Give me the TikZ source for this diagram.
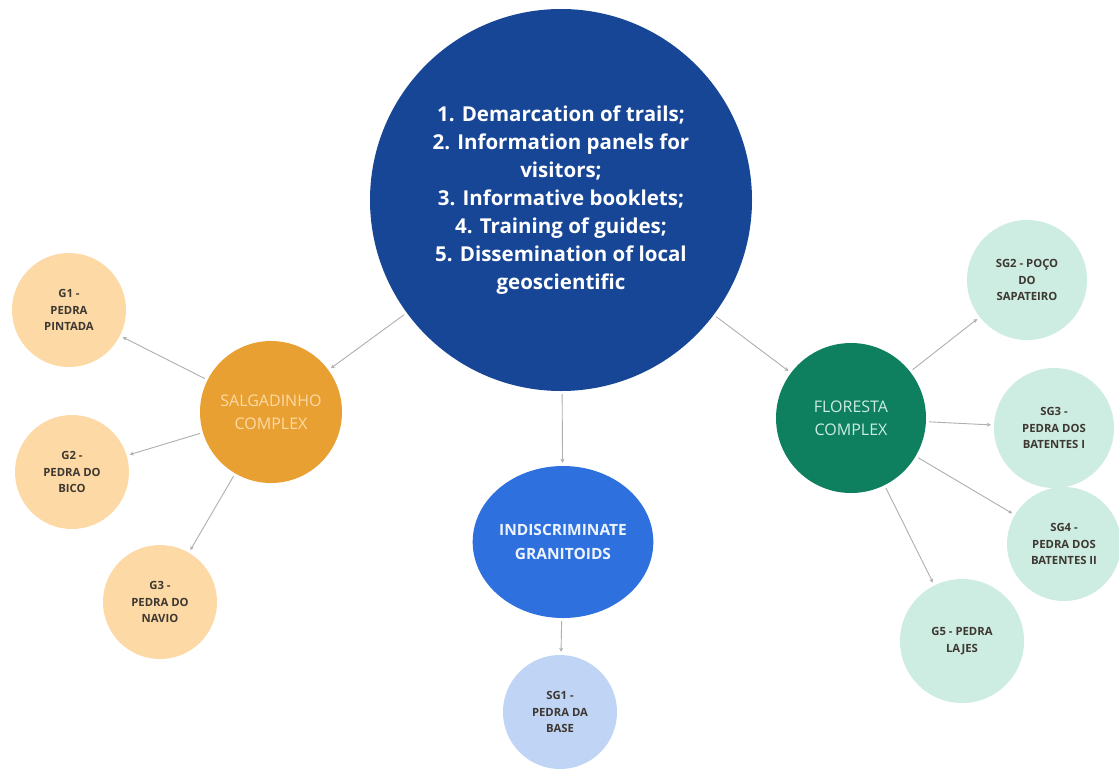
\documentclass[tikz,border=0pt]{standalone}
\usepackage{fontspec}
\setmainfont{Open Sans}
\usetikzlibrary{arrows.meta,shapes.geometric}
\definecolor{mainblue}{RGB}{24,70,150}
\definecolor{salg}{RGB}{232,160,50}
\definecolor{salglight}{RGB}{253,218,165}
\definecolor{flor}{RGB}{14,128,96}
\definecolor{florlight}{RGB}{205,236,226}
\definecolor{indis}{RGB}{45,112,222}
\definecolor{indislight}{RGB}{192,212,246}
\definecolor{smalltext}{RGB}{62,56,50}
\definecolor{linkgray}{RGB}{175,175,175}
\tikzset{
  bubble/.style={circle, inner sep=0pt, align=center},
  leaf/.style={bubble, minimum size=114pt, font=\bfseries\fontsize{11.3}{16.5}\selectfont, text=smalltext},
  link/.style={draw=linkgray, line width=0.9pt, -{Stealth[length=4pt,width=4pt]}, shorten <=3pt, shorten >=3pt}
}
\begin{document}
\begin{tikzpicture}[x=1pt,y=-1pt]
\useasboundingbox (0,0) rectangle (1119,772);
\fill[white] (0,0) rectangle (1119,772);
% main
\node[bubble, fill=mainblue, minimum size=382pt, text=white, font=\bfseries\fontsize{20.5}{28}\selectfont] (main) at (561,200)
 {1. Demarcation of trails;\\2. Information panels for\\visitors;\\3. Informative booklets;\\4. Training of guides;\\5. Dissemination of local\\geoscientific};
% complexes
\node[bubble, fill=salg, minimum size=142pt, text=salglight, font=\fontsize{16}{23}\selectfont] (salg) at (271,412) {SALGADINHO\\COMPLEX};
\node[bubble, fill=flor, minimum size=150pt, text=florlight, font=\fontsize{16}{23}\selectfont] (flor) at (851,418) {FLORESTA\\COMPLEX};
\node[ellipse, inner sep=0pt, align=center, fill=indis, minimum width=178pt, minimum height=152pt, text=white!92!indis, font=\bfseries\fontsize{15.5}{24}\selectfont] (indis) at (563,542) {INDISCRIMINATE\\GRANITOIDS};
% leaves
\node[leaf, fill=salglight] (g1) at (69,310) {G1 -\\PEDRA\\PINTADA};
\node[leaf, fill=salglight] (g2) at (72,472) {G2 -\\PEDRA DO\\BICO};
\node[leaf, fill=salglight] (g3) at (160,602) {G3 -\\PEDRA DO\\NAVIO};
\node[leaf, fill=indislight] (sg1) at (560,712) {SG1 -\\PEDRA DA\\BASE};
\node[leaf, fill=florlight, minimum size=120pt] (sg2) at (1027,280) {SG2 - POÇO\\DO\\SAPATEIRO};
\node[leaf, fill=florlight, minimum size=120pt] (sg3) at (1054,428) {SG3 -\\PEDRA DOS\\BATENTES I};
\node[leaf, fill=florlight] (sg4) at (1064,544) {SG4 -\\PEDRA DOS\\BATENTES II};
\node[leaf, fill=florlight, minimum size=124pt] (g5) at (962,641) {G5 - PEDRA\\LAJES};
% links
\draw[link] (main) -- (salg);
\draw[link] (main) -- (flor);
\draw[link] (main) -- (indis);
\draw[link] (salg) -- (g1);
\draw[link] (salg) -- (g2);
\draw[link] (salg) -- (g3);
\draw[link] (indis) -- (sg1);
\draw[link] (flor) -- (sg2);
\draw[link] (flor) -- (sg3);
\draw[link] (flor) -- (sg4);
\draw[link] (flor) -- (g5);
\end{tikzpicture}
\end{document}
